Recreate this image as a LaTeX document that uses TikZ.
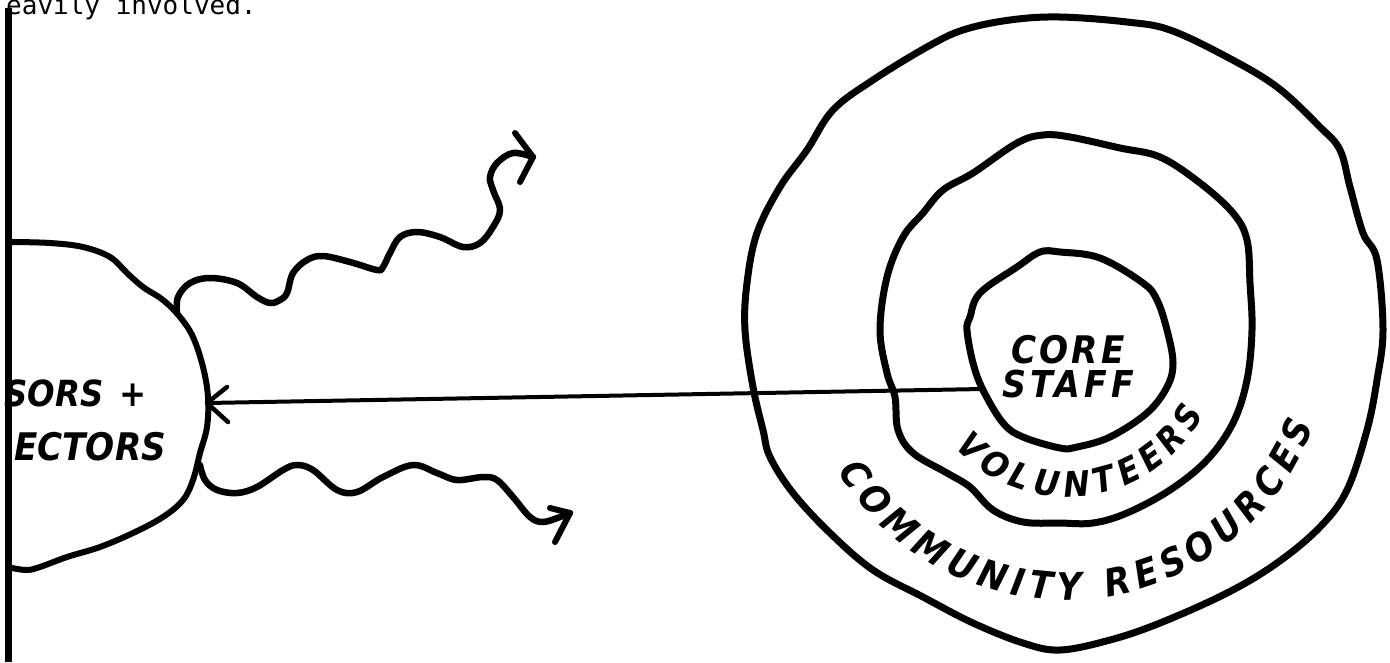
\documentclass[tikz,border=0pt]{standalone}
\usepackage{fontspec}
\usetikzlibrary{decorations.text}
\newfontfamily\hand{DejaVu Sans}[FakeStretch=0.9]
\newfontfamily\handcore{DejaVu Sans}[FakeStretch=0.9, LetterSpace=8]
\newfontfamily\handstaff{DejaVu Sans}[FakeStretch=0.9, LetterSpace=11]
\newfontfamily\typew{DejaVu Sans Mono}
\begin{document}
\begin{tikzpicture}[x=1pt,y=-1pt,
  ring/.style={line width=7pt, line join=round},
  blobline/.style={line width=6pt, line join=round, line cap=round},
  wave/.style={line width=6.5pt, line cap=round, line join=round},
  barb/.style={line width=6pt, line cap=round, line join=round},
  link/.style={line width=4pt, line cap=round},
  handtext/.style={inner sep=0pt, anchor=base west},
]
\useasboundingbox (0,0) rectangle (1390,662);

% top typewritten line
\node[inner sep=0pt, anchor=base west, font=\typew\fontsize{26}{26}\selectfont] (topline) at (6,14) {eavily involved.};

% left blob (sponsors & directors)
\draw[blobline] plot[smooth, tension=0.6] coordinates {(12,242) (50,243) (83,247) (110,257) (127,273) (143,287) (163,300) (180,317) (193,337) (203,367) (208,397) (207,427) (200,453) (193,480) (183,500) (163,517) (133,533) (100,547) (67,557) (40,567) (27,570) (12,568)};
\node[handtext, font=\hand\bfseries\itshape\fontsize{36}{36}\selectfont] (sors) at (4,406) {SORS\hspace{0.45em}+};
\node[handtext, font=\hand\bfseries\itshape\fontsize{38}{38}\selectfont] (ectors) at (14,460) {ECTORS};

% left margin bar
\draw[line width=7pt] (8.5,8) -- (8.5,662);

% upper wavy arrow
\coordinate (w1s) at (177,313);
\coordinate (w1t) at (533,157);
\coordinate (w1a) at (515,133);
\coordinate (w1b) at (520,182);
\draw[wave] plot[smooth, tension=0.6] coordinates {(177,313) (178,297) (190,283) (210,278) (237,283) (257,297) (270,303) (280,300) (287,293) (293,273) (307,260) (323,256) (350,262) (377,270) (383,267) (390,253) (400,237) (417,232) (440,237) (463,247) (480,243) (493,227) (500,210) (493,190) (490,177) (497,163) (513,153) (533,157)};
\draw[barb] (w1a) -- (w1t) -- (w1b);

% lower wavy arrow
\coordinate (w2s) at (200,465);
\coordinate (w2t) at (570,513);
\coordinate (w2a) at (550,508);
\coordinate (w2b) at (555,542);
\draw[wave] plot[smooth, tension=0.6] coordinates {(200,465) (205,480) (217,490) (237,493) (257,487) (283,470) (297,465) (313,470) (337,490) (357,492) (383,477) (413,465) (437,473) (457,480) (483,477) (497,480) (513,497) (530,517) (543,522) (560,517) (570,513)};
\draw[barb] (w2a) -- (w2t) -- (w2b);

% concentric rings
\draw[ring] plot[smooth cycle, tension=0.6] coordinates {(1060,17) (1127,22) (1170,30) (1227,57) (1277,87) (1320,127) (1340,150) (1350,187) (1363,233) (1377,260) (1383,330) (1377,380) (1367,430) (1347,490) (1320,527) (1277,563) (1227,593) (1160,623) (1110,640) (1060,650) (1023,643) (973,623) (923,597) (873,570) (830,533) (793,493) (770,457) (763,430) (753,387) (745,330) (747,283) (757,233) (780,187) (807,150) (833,110) (873,80) (927,47) (963,30) (1010,20)};
\draw[ring] plot[smooth cycle, tension=0.6] coordinates {(1070,137) (1120,148) (1160,157) (1200,183) (1233,213) (1247,240) (1250,283) (1252,330) (1247,380) (1233,423) (1207,460) (1170,490) (1127,513) (1093,523) (1060,523) (1023,522) (993,510) (970,487) (947,473) (913,453) (898,430) (895,397) (887,373) (880,330) (887,277) (903,237) (923,213) (943,190) (973,173) (1017,143) (1043,135)};
\draw[ring] plot[smooth cycle, tension=0.6] coordinates {(1060,252) (1100,258) (1143,283) (1157,300) (1167,330) (1173,363) (1167,387) (1147,413) (1110,437) (1077,447) (1060,448) (1023,437) (1003,423) (983,390) (973,363) (967,330) (970,317) (980,293) (1017,267) (1040,252)};

% labels in rings
\node[inner sep=0pt, anchor=base, font=\handcore\bfseries\itshape\fontsize{38}{38}\selectfont] (core) at (1068,363) {CORE};
\node[inner sep=0pt, anchor=base, font=\handstaff\bfseries\itshape\fontsize{37}{37}\selectfont] (staff) at (1068,397) {STAFF};

\coordinate (vc) at (1068,345);
\path[decorate, decoration={text along path, text align={fit to path},
  text={|\hand\bfseries\itshape\fontsize{35}{35}\selectfont|VOLUNTEERS}}]
  (vc) ++(138:152) arc[start angle=138, end angle=27, radius=152];

\coordinate (cc) at (1065,335);
\path[decorate, decoration={text along path, text align={fit to path},
  text={|\hand\bfseries\itshape\fontsize{38}{38}\selectfont|COMMUNITY RESOURCES}}]
  (cc) ++(149:265) arc[start angle=149, end angle=20, radius=265];

% connector from core staff to the left blob
\coordinate (coreW) at (983,389);
\coordinate (blobE) at (207,403);
\coordinate (ba) at (227,387);
\coordinate (bb) at (228,422);
\draw[link] (coreW) -- (blobE);
\draw[barb, line width=4.5pt] (ba) -- (blobE) -- (bb);
\end{tikzpicture}
\end{document}
